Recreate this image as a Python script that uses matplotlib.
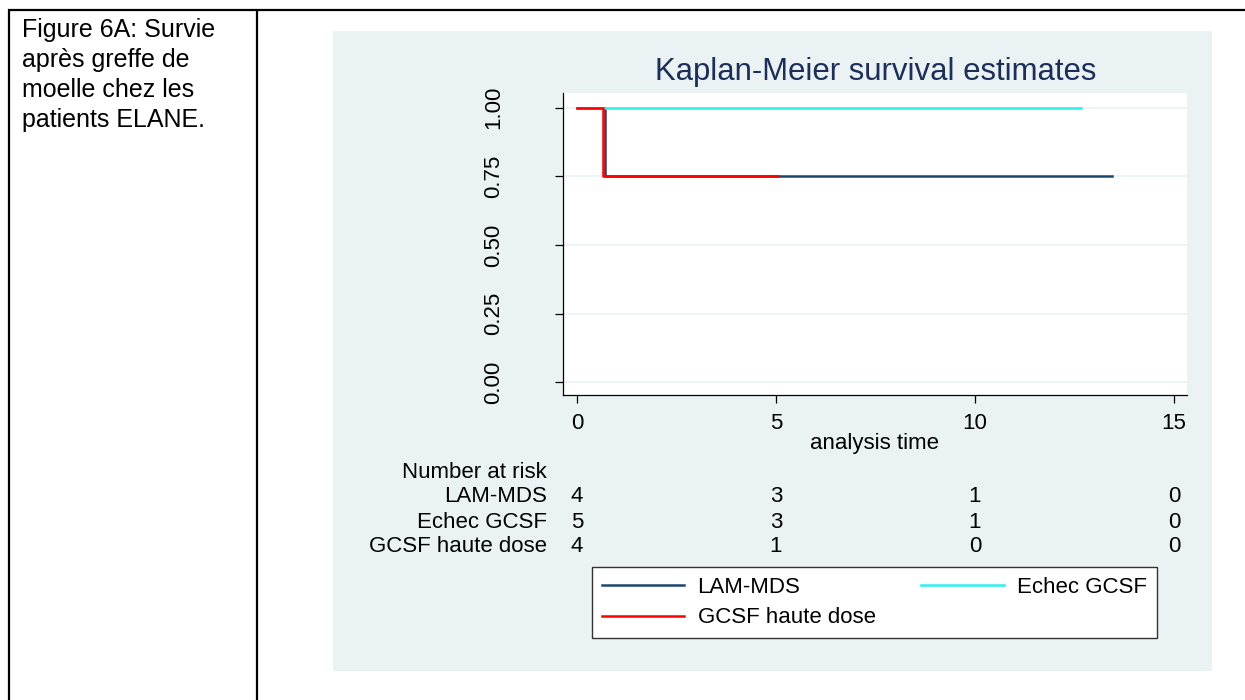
import matplotlib
matplotlib.use("Agg")
import matplotlib.pyplot as plt
from matplotlib.lines import Line2D
from matplotlib.patches import Rectangle
import matplotlib.transforms as mtransforms

plt.rcParams['font.family'] = ['Liberation Sans', 'DejaVu Sans']

# ---- data ----
groups = ["LAM-MDS", "Echec GCSF", "GCSF haute dose"]
colors = ["#1a476f", "#2af0f0", "#ff0000"]
times_lam = [0, 0.70, 13.45]
surv_lam = [1.0, 0.75, 0.75]
times_echec = [0, 12.66]
surv_echec = [1.0, 1.0]
times_gcsf = [0, 0.66, 5.05]
surv_gcsf = [1.0, 0.75, 0.75]
risk_times = [0, 5, 10, 15]
risk_lam = [4, 3, 1, 0]
risk_echec = [5, 3, 1, 0]
risk_gcsf = [4, 1, 0, 0]
xticks = [0, 5, 10, 15]
yticks = [0.00, 0.25, 0.50, 0.75, 1.00]
ytick_labels = ["0.00", "0.25", "0.50", "0.75", "1.00"]
caption_lines = ["Figure 6A: Survie", "après greffe de", "moelle chez les", "patients ELANE."]

W, H = 1245, 700
def fx(x): return x / W
def fy(y): return 1 - y / H

FS = 16

fig = plt.figure(figsize=(W / 100, H / 100), dpi=100)
fig.patch.set_facecolor("white")

# table borders
for (x0, y0, x1, y1) in [(8, 10, 1245, 10), (9, 9, 9, 700), (257, 9, 257, 700)]:
    fig.add_artist(Line2D([fx(x0), fx(x1)], [fy(y0), fy(y1)], transform=fig.transFigure,
                          color="black", lw=1.6, solid_capstyle="butt"))

# caption
for i, line in enumerate(caption_lines):
    fig.text(fx(22), fy(37 + i * 30), line, fontsize=18, ha="left", va="baseline", color="black")

# stata panel
fig.add_artist(Rectangle((fx(333), fy(671)), fx(1212) - fx(333), fy(31) - fy(671),
                         transform=fig.transFigure, facecolor="#eaf2f3", edgecolor="none", zorder=0))

ax = fig.add_axes([fx(563), fy(395), fx(1187) - fx(563), fy(93) - fy(395)])
ax.set_facecolor("white")
ax.set_zorder(1)

ax.step(times_lam, surv_lam, where="post", color=colors[0], lw=1.8, label=groups[0])
ax.step(times_echec, surv_echec, where="post", color=colors[1], lw=1.8, label=groups[1])
ax.step(times_gcsf, surv_gcsf, where="post", color=colors[2], lw=1.8, label=groups[2])

ax.set_xlim(-0.35, 15.33)
ax.set_ylim(-0.047, 1.054)
ax.set_xticks(xticks)
ax.set_yticks(yticks)
ax.set_yticklabels(ytick_labels)
for yv in yticks:
    ax.axhline(yv, color="#eaf2f3", lw=1.2, zorder=0)
for s in ["top", "right"]:
    ax.spines[s].set_visible(False)
for s in ["left", "bottom"]:
    ax.spines[s].set_color("black")
    ax.spines[s].set_linewidth(0.9)
ax.tick_params(axis="x", length=6, width=0.9, pad=7, labelsize=FS)
ax.tick_params(axis="y", length=6, width=0.9, pad=44, labelsize=FS)
for lab in ax.get_yticklabels():
    lab.set_rotation(90)
    lab.set_va("center")
    lab.set_ha("center")

ax.set_xlabel("analysis time", fontsize=FS, va="center")
ax.xaxis.set_label_coords(0.5, -(443 - 395) / 302)

fig.text(fx(876), fy(72), "Kaplan-Meier survival estimates", fontsize=22.4, color="#1c2e5a",
         ha="center", va="center")

# number at risk
trans = mtransforms.blended_transform_factory(ax.transData, fig.transFigure)
fig.text(fx(547), fy(472), "Number at risk", fontsize=FS, ha="right", va="center")
row_y = [497, 522, 547]
for name, vals, yy in zip(groups, [risk_lam, risk_echec, risk_gcsf], row_y):
    fig.text(fx(547), fy(yy), name, fontsize=FS, ha="right", va="center")
    for t, v in zip(risk_times, vals):
        ax.text(t, fy(yy), str(v), transform=trans, fontsize=FS, ha="center", va="center",
                clip_on=False)

# legend
handles, labels = ax.get_legend_handles_labels()
order = [0, 2, 1]
leg = fig.legend([handles[i] for i in order], [labels[i] for i in order], ncol=2,
                 loc="upper left", bbox_to_anchor=(fx(592), fy(641), fx(1157) - fx(592), fy(567) - fy(641)),
                 mode="expand", fontsize=FS, frameon=True, fancybox=False, edgecolor="#333333",
                 facecolor="white", framealpha=1, handlelength=3.7, handletextpad=0.6,
                 borderpad=0.45, labelspacing=0.42, columnspacing=3, borderaxespad=0)
leg.get_frame().set_linewidth(1.0)

fig.savefig("out.png", dpi=100, facecolor="white")
